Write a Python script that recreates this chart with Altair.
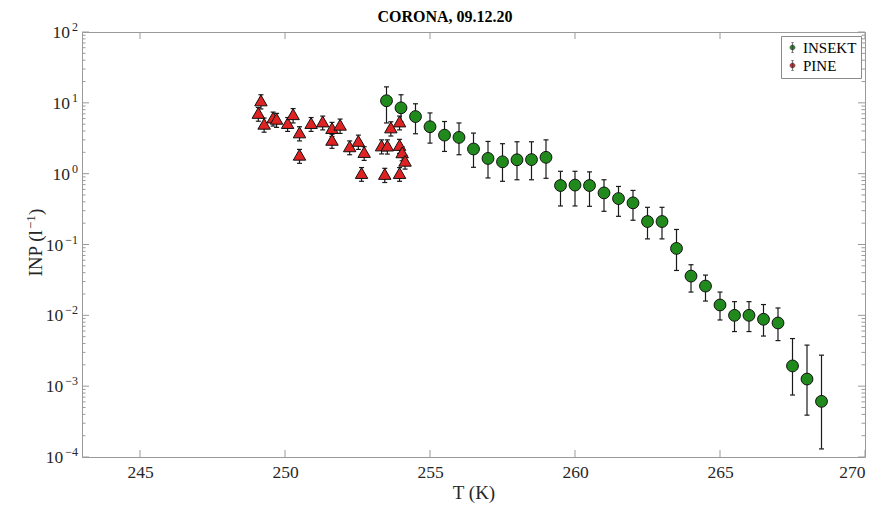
import altair as alt
import pandas as pd

# ---------------- data ----------------
ins_T = [253.5, 254, 254.5, 255, 255.5, 256, 256.5, 257, 257.5, 258, 258.5, 259,
         259.5, 260, 260.5, 261, 261.5, 262, 262.5, 263, 263.5, 264, 264.5, 265,
         265.5, 266, 266.5, 267, 267.5, 268, 268.5]
ins_v = [10.7, 8.5, 6.4, 4.6, 3.5, 3.25, 2.23, 1.64, 1.47, 1.57, 1.58, 1.70,
         0.68, 0.69, 0.68, 0.535, 0.445, 0.387, 0.211, 0.211, 0.088, 0.0358, 0.0259, 0.0140,
         0.0100, 0.0100, 0.0088, 0.0078, 0.00193, 0.00126, 0.00061]
ins_lo = [5.2, 5.4, 3.66, 2.7, 2.06, 1.85, 1.23, 0.87, 0.78, 0.82, 0.82, 0.86,
          0.35, 0.35, 0.346, 0.294, 0.25, 0.22, 0.12, 0.12, 0.043, 0.0213, 0.0159, 0.0086,
          0.0059, 0.0059, 0.0051, 0.0044, 0.00075, 0.00039, 0.00013]
ins_hi = [16.8, 13.0, 9.7, 7.2, 5.45, 5.2, 3.74, 2.85, 2.65, 2.82, 2.82, 3.0,
          1.08, 1.08, 1.06, 0.82, 0.66, 0.58, 0.335, 0.335, 0.163, 0.0518, 0.037, 0.0213,
          0.0156, 0.0156, 0.0142, 0.0127, 0.0047, 0.0038, 0.00274]

pine_T = [249.17, 249.08, 249.28, 249.59, 249.71, 250.09, 250.28, 250.5, 250.5, 250.9,
          251.3, 251.62, 251.9, 251.62, 252.23, 252.53, 252.73, 252.64, 253.33, 253.53,
          253.44, 253.95, 253.95, 253.65, 253.95, 254.04, 254.14]
pine_v = [10.8, 7.2, 5.06, 6.2, 5.95, 5.18, 6.9, 3.82, 1.85, 5.18,
          5.45, 4.4, 4.9, 3.0, 2.43, 2.9, 2.02, 1.02, 2.5, 2.49,
          0.99, 1.02, 2.54, 4.49, 5.45, 2.0, 1.52]
pine_lo = [8.2, 5.5, 3.85, 4.7, 4.5, 3.95, 5.2, 2.9, 1.4, 3.95,
           4.15, 3.35, 3.7, 2.28, 1.85, 2.2, 1.54, 0.78, 1.9, 1.89,
           0.75, 0.78, 1.93, 3.4, 4.15, 1.52, 1.16]
pine_hi = [13.0, 8.6, 6.1, 7.4, 7.1, 6.2, 8.3, 4.6, 2.2, 6.2,
           6.5, 5.3, 5.9, 3.6, 2.9, 3.5, 2.4, 1.22, 3.0, 3.0,
           1.19, 1.22, 3.05, 5.4, 6.5, 2.4, 1.82]

series_names = ["INSEKT", "PINE"]
series_colors = ["#218a1c", "#e02222"]
legend_colors = ["#218a1c", "#a01010"]

x_ticks = [245, 250, 255, 260, 265, 270]
y_major = [1e-4, 1e-3, 1e-2, 1e-1, 1e0, 1e1, 1e2]
y_exp = ["\u22124", "\u22123", "\u22122", "\u22121", "0", "1", "2"]
y_minor = [m * 10.0 ** k for k in range(-4, 2) for m in range(2, 10)]
title_text = "CORONA, 09.12.20"
x_title = "T (K)"
y_title_main = "INP (l"
y_title_exp = "\u22121"
y_title_end = ")"

# ---------------- layout ----------------
W, H = 783, 425
FONT = "Liberation Serif"
TXT = "#262626"
TICK = "#9a9a9a"

ins = pd.DataFrame({"T": ins_T, "v": ins_v, "lo": ins_lo, "hi": ins_hi, "series": "INSEKT"})
pine = pd.DataFrame({"T": pine_T, "v": pine_v, "lo": pine_lo, "hi": pine_hi, "series": "PINE"})
ymaj = pd.DataFrame({"v": y_major, "e": y_exp})
ymin = pd.DataFrame({"v": y_minor})
xtk = pd.DataFrame({"T": x_ticks})

xs = alt.Scale(domain=[243, 270], nice=False, zero=False)
ys = alt.Scale(type="log", domain=[1e-4, 1e2], nice=False)

xaxis = alt.Axis(values=x_ticks, ticks=False, domain=False, grid=False,
                 labelFont=FONT, labelFontSize=17.5, labelColor=TXT, labelPadding=6,
                 title=x_title, titleFont=FONT, titleFontSize=19, titleFontWeight="normal",
                 titleColor=TXT, titlePadding=3)
yaxis = alt.Axis(labels=False, ticks=False, domain=False, grid=False, title=None)

X = lambda f="T": alt.X(f"{f}:Q", scale=xs, axis=xaxis)
Y = lambda f="v": alt.Y(f"{f}:Q", scale=ys, axis=yaxis)

legend_path = ("M0,-1.1V1.1M-0.3,-1.1H0.3M-0.3,1.1H0.3"
               "M0.55,0A0.55,0.55,0,1,1,-0.55,0A0.55,0.55,0,1,1,0.55,0Z")
color = alt.Color("series:N",
                  scale=alt.Scale(domain=series_names, range=series_colors),
                  legend=alt.Legend(orient="none", legendX=699, legendY=4, title=None,
                                    strokeColor="#8a8a8a", fillColor="white", padding=4,
                                    labelFont=FONT, labelFontSize=15, labelColor="#000",
                                    symbolType=legend_path, symbolSize=80,
                                    symbolStrokeColor="#333", symbolStrokeWidth=0.6,
                                    labelOffset=3, rowPadding=2))


def errbars(df):
    base = alt.Chart(df)
    bar = base.mark_rule(color="#1a1a1a", strokeWidth=1.2).encode(x=X(), y=Y("lo"), y2="hi:Q")
    cap_lo = base.mark_point(shape="stroke", size=25, color="#1a1a1a", strokeWidth=1.2,
                             opacity=1).encode(x=X(), y=Y("lo"))
    cap_hi = base.mark_point(shape="stroke", size=25, color="#1a1a1a", strokeWidth=1.2,
                             opacity=1).encode(x=X(), y=Y("hi"))
    return [bar, cap_lo, cap_hi]


ins_pts = alt.Chart(ins).mark_point(shape="circle", filled=True, size=140, stroke="#111",
                                    strokeWidth=1, opacity=1).encode(x=X(), y=Y(), color=color)
pine_pts = alt.Chart(pine).mark_point(shape="triangle-up", filled=True, size=155, stroke="#111",
                                      strokeWidth=1, opacity=1).encode(x=X(), y=Y(), color=color)

# tick marks (inward, MATLAB style)
tk = dict(color=TICK, strokeWidth=1)
ticks = [
    alt.Chart(ymaj).mark_rule(**tk).encode(y=Y(), x=alt.value(0), x2=alt.value(7)),
    alt.Chart(ymaj).mark_rule(**tk).encode(y=Y(), x=alt.value(W - 7), x2=alt.value(W)),
    alt.Chart(ymin).mark_rule(**tk).encode(y=Y(), x=alt.value(0), x2=alt.value(3.5)),
    alt.Chart(ymin).mark_rule(**tk).encode(y=Y(), x=alt.value(W - 3.5), x2=alt.value(W)),
    alt.Chart(xtk).mark_rule(**tk).encode(x=X(), y=alt.value(H - 7), y2=alt.value(H)),
    alt.Chart(xtk).mark_rule(**tk).encode(x=X(), y=alt.value(0), y2=alt.value(7)),
]

# y tick labels: "10" + superscript exponent
ylab_exp = alt.Chart(ymaj).mark_text(font=FONT, fontSize=12, color=TXT, align="right",
                                      baseline="alphabetic", dy=-1).encode(
    y=Y(), x=alt.value(-4), text="e:N")
ylab_base = alt.Chart(ymaj).transform_calculate(
    bx="-6 - (length(datum.e) > 1 ? 12.8 : 6)"
).mark_text(font=FONT, fontSize=17.5, color=TXT, align="right", baseline="middle", dy=1).encode(
    y=Y(), x=alt.X("bx:Q", scale=None), text=alt.value("10"))

# y title (rotated) built from pieces
one = pd.DataFrame({"k": [0]})
YT_X = -40
ystart = H / 2 + 32
yt1 = alt.Chart(one).mark_text(font=FONT, fontSize=19, color=TXT, angle=270, align="left",
                               baseline="alphabetic").encode(
    x=alt.value(YT_X), y=alt.value(ystart), text=alt.value(y_title_main))
yt2 = alt.Chart(one).mark_text(font=FONT, fontSize=13, color=TXT, angle=270, align="left",
                               baseline="alphabetic").encode(
    x=alt.value(YT_X - 7), y=alt.value(ystart - 47.5), text=alt.value(y_title_exp))
yt3 = alt.Chart(one).mark_text(font=FONT, fontSize=19, color=TXT, angle=270, align="left",
                               baseline="alphabetic").encode(
    x=alt.value(YT_X), y=alt.value(ystart - 47.5 - 14), text=alt.value(y_title_end))

title = alt.Chart(one).mark_text(font=FONT, fontSize=16, fontWeight="bold", color="#000",
                                 align="center", baseline="alphabetic").encode(
    x=alt.value(445 - 82), y=alt.value(-10.5), text=alt.value(title_text))

layers = errbars(ins) + [ins_pts] + errbars(pine) + [pine_pts] + ticks + \
    [ylab_exp, ylab_base, yt1, yt2, yt3, title]

chart = alt.layer(*layers).properties(
    width=W, height=H,
    autosize=alt.AutoSizeParams(type="none"),
    padding={"left": 82, "top": 32, "right": 25, "bottom": 50},
    background="white",
).configure_view(stroke="#9a9a9a", strokeWidth=1)

chart.save("out.html", embed_options={"renderer": "svg", "actions": False})
